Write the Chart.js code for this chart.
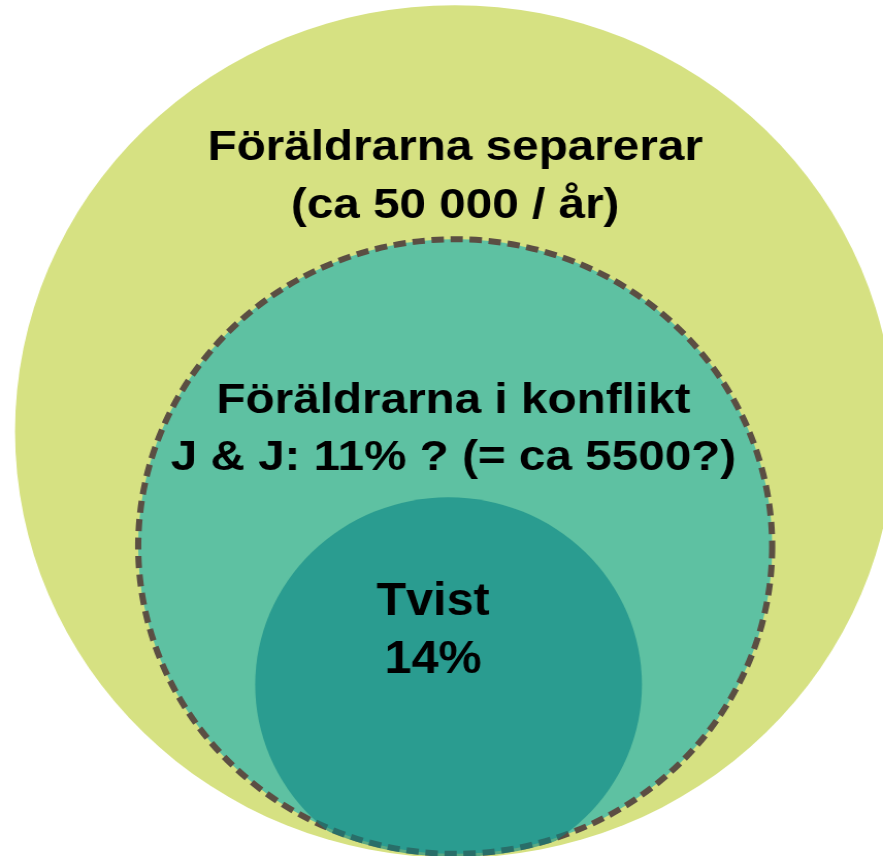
<!DOCTYPE html>
<html>
<head>
<meta charset="utf-8">
<script src="https://cdn.jsdelivr.net/npm/chart.js@4.4.1/dist/chart.umd.min.js"></script>
<style>
    html, body { margin: 0; padding: 0; background: #ffffff; }
    #venn { display: block; }
</style>
</head>
<body>
<!-- drawn square, shown a little wider like the original slide -->
<canvas id="venn" width="856" height="856" style="width:883px;height:856px"></canvas>
<script>
// groups, outermost first
var groupTitles = ['Föräldrarna separerar', 'Föräldrarna i konflikt', 'Tvist'];
var groupNotes = ['(ca 50 000 / år)', 'J & J: 11% ? (= ca 5500?)', '14%'];

// circle centres and radii in diagram units (axis 0..200)
var centreX = [103.0, 103.1, 101.6];
var centreY = [100.8, 127.7, 160.0];
var radius = [99.6, 71.8, 43.8];

// where the two text lines go (first baseline, second baseline)
var textX = [103.1, 102.7, 98.1];
var textY1 = [37.4, 96.5, 143.7];
var textY2 = [50.9, 109.8, 157.2];

var fillColors = ['#d6e182', '#5ec1a2', 'rgba(8, 131, 131, 0.6)'];

var VennChart = {

    init: function() {
        var ctx = document.getElementById('venn');
        this.chart = new Chart(ctx, {
            type: 'scatter',
            data: { datasets: this.buildDatasets() },
            options: {
                responsive: false,
                animation: false,
                events: [],
                layout: { padding: 0, autoPadding: false },
                scales: {
                    x: { type: 'linear', min: 0, max: 200, display: false },
                    y: { type: 'linear', min: 0, max: 200, reverse: true, display: false }
                },
                plugins: {
                    legend: { display: false },
                    tooltip: { enabled: false }
                }
            },
            plugins: [this.dashPlugin, this.labelPlugin]
        });
    },

    buildDatasets: function() {
        var sets = [];
        for (var i = 0; i < groupTitles.length; i++) {
            sets.push({
                label: groupTitles[i],
                data: [{ x: centreX[i], y: centreY[i] }],
                r: radius[i],
                order: groupTitles.length - i,
                clip: false,
                pointStyle: 'circle',
                pointRadius: VennChart.pixelRadius,
                pointBackgroundColor: fillColors[i],
                pointBorderColor: '#5b4e43',
                pointBorderWidth: i === 1 ? 6 : 0,
                dash: i === 1 ? [12, 6.5] : null,
                // the inner circle is cut off by the dashed one
                clipTo: i === 2 ? 1 : null
            });
        }
        return sets;
    },

    // radius in diagram units -> pixels through the x scale
    pixelRadius: function(c) {
        var sc = c.chart.scales.x;
        var r = c.dataset.r;
        var px = Math.abs(sc.getPixelForValue(r) - sc.getPixelForValue(0));
        return isFinite(px) ? px : 0;
    },

    dashPlugin: {
        id: 'dashBorder',
        beforeDatasetDraw: function(chart, args) {
            var ds = chart.data.datasets[args.index];
            var ctx = chart.ctx;
            ctx.save();
            if (ds.clipTo !== null && ds.clipTo !== undefined) {
                var pt = chart.getDatasetMeta(ds.clipTo).data[0];
                var o = pt.options;
                ctx.beginPath();
                ctx.arc(pt.x, pt.y, o.radius + o.borderWidth / 2, 0, Math.PI * 2);
                ctx.clip();
            }
            if (ds.dash) ctx.setLineDash(ds.dash);
        },
        afterDatasetDraw: function(chart) {
            chart.ctx.restore();
        }
    },

    labelPlugin: {
        id: 'groupLabels',
        afterDatasetsDraw: function(chart) {
            var ctx = chart.ctx;
            var xs = chart.scales.x, ys = chart.scales.y;
            var put = function(text, x, y, stretch) {
                ctx.save();
                ctx.translate(x, y);
                ctx.scale(stretch, 1);
                ctx.fillText(text, 0, 0);
                ctx.restore();
            };
            ctx.save();
            ctx.fillStyle = '#000000';
            ctx.textAlign = 'center';
            ctx.textBaseline = 'alphabetic';
            for (var i = 0; i < groupTitles.length; i++) {
                var size = i === 2 ? 47 : 42;
                var stretch = i === 2 ? 1 : 1.1;
                ctx.font = 'bold ' + size + 'px "Liberation Sans", Arial, sans-serif';
                var x = xs.getPixelForValue(textX[i]);
                put(groupTitles[i], x, ys.getPixelForValue(textY1[i]), stretch);
                put(groupNotes[i], x, ys.getPixelForValue(textY2[i]), stretch);
            }
            ctx.restore();
        }
    }
};

VennChart.init();
</script>
</body>
</html>
